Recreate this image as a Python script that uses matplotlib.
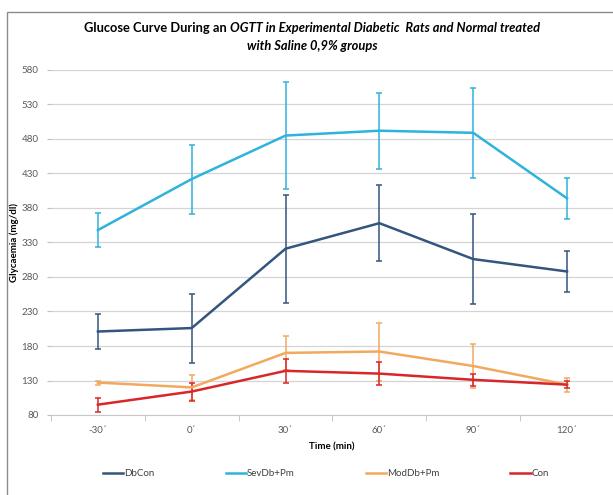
import matplotlib
matplotlib.use('Agg')
import matplotlib.pyplot as plt
from matplotlib.patches import Rectangle
from matplotlib.lines import Line2D
from matplotlib.ticker import FixedLocator

# time points and labels
times = ['-30´', '0´', '30´', '60´', '90´', '120´']

# group means (mg/dl)
dbcon = [201, 206, 321, 358, 306, 288]
dbcon_err = [25, 50, 78, 55, 65, 30]
sevdb = [348, 422, 485, 492, 489, 394]
sevdb_err = [25, 50, 78, 55, 65, 30]
moddb = [127, 120, 170, 172, 151, 124]
moddb_err = [3, 18, 25, 42, 32, 10]
con = [95, 114, 144, 140, 131, 124]
con_err = [10, 13, 17, 17, 9, 5]

names = ['DbCon', 'SevDb+Pm', 'ModDb+Pm', 'Con']
colors = ['#34557d', '#2fb3dc', '#f2a95e', '#d9262a']

plt.rcParams['font.family'] = ['Lato', 'DejaVu Sans']

fig = plt.figure(figsize=(6.13, 4.95), dpi=100)
ax = fig.add_axes([51/613, 80/495, 1 - 51/613, 345/495])

x = list(range(len(times)))
series = [(dbcon, dbcon_err), (sevdb, sevdb_err), (moddb, moddb_err), (con, con_err)]
for (vals, errs), name, col in zip(series, names, colors):
    ax.errorbar(x, vals, yerr=errs, color=col, lw=1.8, elinewidth=1.1,
                capsize=2, capthick=1.1)

ax.set_xlim(-0.5, 5.49)
ax.set_ylim(80, 580)
ax.set_yticks(range(80, 581, 50))
ax.set_xticks(x)
ax.set_xticklabels(times)
ax.xaxis.set_minor_locator(FixedLocator([i - 0.5 for i in range(7)]))
ax.tick_params(axis='x', which='major', length=0, pad=8, labelsize=7, labelcolor='#595959')
ax.tick_params(axis='x', which='minor', length=4, color='#bfbfbf', direction='out')
ax.tick_params(axis='y', length=3, color='#bfbfbf', labelsize=7, labelcolor='#595959', pad=6)
ax.grid(axis='y', color='#d4d4d4', lw=0.9)
ax.set_axisbelow(True)
for s in ['top', 'right', 'left']:
    ax.spines[s].set_visible(False)
ax.spines['bottom'].set_color('#c8c8c8')

ax.set_xlabel('Time (min)', fontsize=7, fontweight='bold', labelpad=5)
ax.set_ylabel('Glycaemia (mg/dl)', fontsize=7, fontweight='bold', labelpad=2)

handles = [Line2D([], [], color=c, lw=1.8) for c in colors]
fig.legend(handles, names, loc='center', bbox_to_anchor=(0.532, 1 - 474/495), ncol=4,
           frameon=False, fontsize=7, handlelength=2.1, handletextpad=0.1,
           columnspacing=7.3, labelcolor='#404040')

# outer chart frame
fig.patches.append(Rectangle((7/613, -0.1), 1.2, 1.1 - 12/495, transform=fig.transFigure,
                             fill=False, edgecolor='#8c8c8c', lw=1.0))

# title with mixed upright / italic pieces
renderer = fig.canvas.get_renderer()
def put_line(pieces, y):
    texts = [fig.text(0, y, s, fontsize=9.3, fontweight='bold', style=st, va='center')
             for s, st in pieces]
    widths = [t.get_window_extent(renderer).width for t in texts]
    start = 312 - sum(widths) / 2
    for t, w in zip(texts, widths):
        t.set_x(start / 613)
        start += w

put_line([('Glucose Curve During an ', 'normal'),
          ('OGTT in Experimental Diabetic  Rats and Normal treated', 'italic')], 1 - 28/495)
put_line([('with Saline 0,9% groups', 'italic')], 1 - 46/495)

fig.savefig('out.png', dpi=100)
